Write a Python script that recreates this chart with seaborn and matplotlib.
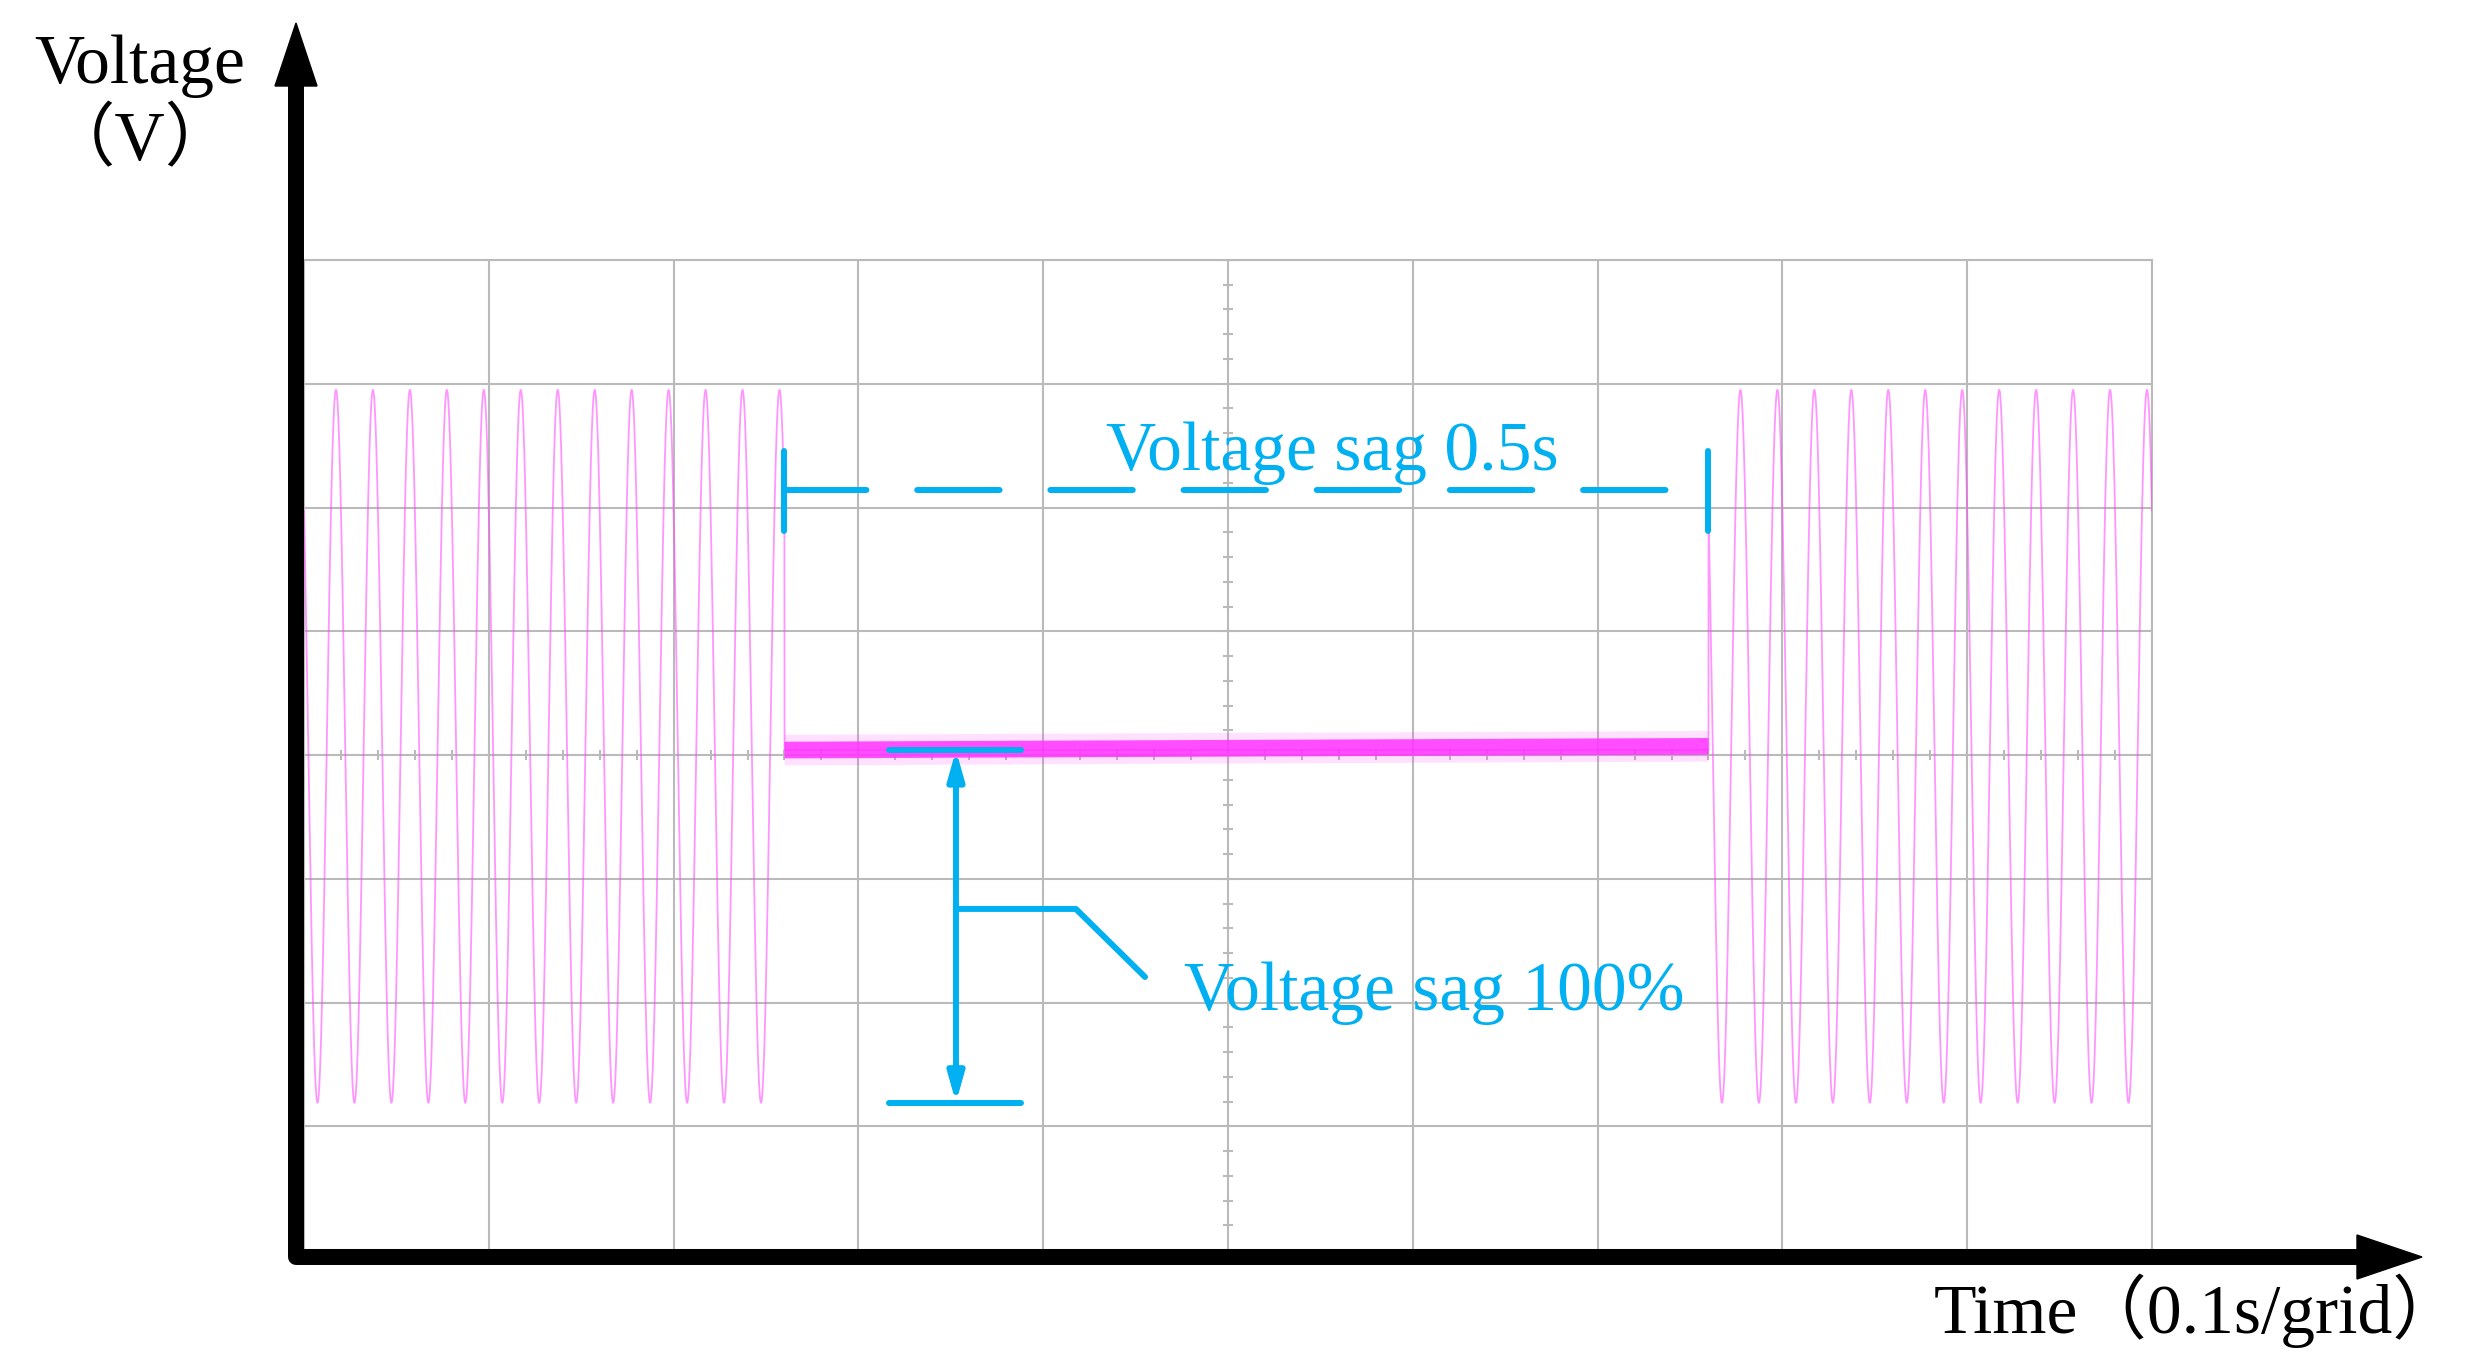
import numpy as np
import pandas as pd
import matplotlib
matplotlib.use("Agg")
import matplotlib.pyplot as plt
from matplotlib.lines import Line2D
from matplotlib.patches import Polygon
import seaborn as sns

sns.set_style("white")
plt.rcParams['font.family'] = ['Liberation Serif', 'Noto Sans CJK SC', 'DejaVu Sans']
plt.rcParams['text.color'] = 'black'

# signal (x: seconds, y: grid divisions)
TIME_RANGE = [0.0, 1.0]
X_GRID = 0.1          # 0.1 s per grid
Y_RANGE = [-4, 4]
FREQ_HZ = 50
AMPLITUDE = 2.88
DC_OFFSET = 0.07
FIRST_PEAK = 0.0173   # time of first crest
SAG_START = 0.26
SAG_END = 0.76
SAG_LEVEL = [0.04, 0.07]   # residual voltage at start / end of sag
SAMPLE_RATE = 20000

# annotation geometry
SAG_DIM_Y = 2.14
SAG_BAR_Y = [1.81, 2.46]
DEPTH_X = 0.3528
DEPTH_BAR_X = [0.3166, 0.388]
LEADER_X = [0.3528, 0.4177, 0.4551]
LEADER_Y = [-1.244, -1.244, -1.794]
LABEL_SAG_TIME = "Voltage sag 0.5s"
LABEL_SAG_DEPTH = "Voltage sag 100%"
LABEL_TIME_POS = [0.5563, 2.303]
LABEL_DEPTH_POS = [0.6115, -2.061]

CYAN = '#00b0f0'
MAGENTA = '#ff33ff'
GRID = '#bababa'

W, H = 2482, 1370


def fig_pt(x, y):
    return x / W, 1 - y / H


t = np.arange(TIME_RANGE[0], TIME_RANGE[1] + 1e-9, 1 / SAMPLE_RATE)
wave = DC_OFFSET + AMPLITUDE * np.cos(2 * np.pi * FREQ_HZ * (t - FIRST_PEAK))
in_sag = (t >= SAG_START) & (t <= SAG_END)
wave = np.where(in_sag, SAG_LEVEL[0], wave)
df = pd.DataFrame({'t': t, 'v': wave})
sag_df = pd.DataFrame({'t': [SAG_START, SAG_END], 'v': SAG_LEVEL})

fig = plt.figure(figsize=(W / 100, H / 100), dpi=100)
ax = fig.add_axes([304 / W, 120 / H, 1848 / W, 990 / H])

sns.lineplot(data=df, x='t', y='v', ax=ax, color='#ff40ff', lw=1.3,
             alpha=0.55, estimator=None, zorder=3)
sns.lineplot(data=sag_df, x='t', y='v', ax=ax, color=MAGENTA, lw=22,
             alpha=0.15, estimator=None, zorder=3, solid_capstyle='butt')
sns.lineplot(data=sag_df, x='t', y='v', ax=ax, color=MAGENTA, lw=12,
             alpha=0.85, estimator=None, zorder=3, solid_capstyle='butt')

ax.set_xlim(TIME_RANGE)
ax.set_ylim(Y_RANGE)
ax.set_xticks(np.arange(TIME_RANGE[0], TIME_RANGE[1] + 1e-9, X_GRID))
ax.set_yticks(np.arange(Y_RANGE[0], Y_RANGE[1] + 1))
ax.grid(True, color=GRID, lw=1.5)
ax.tick_params(length=0, labelbottom=False, labelleft=False)
ax.set_xlabel('')
ax.set_ylabel('')
for side in ['top', 'right', 'left', 'bottom']:
    ax.spines[side].set_color(GRID)
    ax.spines[side].set_linewidth(1.5)

# small ticks on the centre cross, like the scope graticule
mid_x = np.mean(TIME_RANGE)
ax.plot(np.full(41, mid_x), np.linspace(Y_RANGE[0], Y_RANGE[1], 41), ls='none',
        marker='_', ms=7, mew=1.5, color=GRID, zorder=2)
ax.plot(np.linspace(TIME_RANGE[0], TIME_RANGE[1], 51), np.zeros(51), ls='none',
        marker='|', ms=7, mew=1.5, color=GRID, zorder=2)

# sag duration marker
ax.plot([SAG_START, SAG_END], [SAG_DIM_Y, SAG_DIM_Y], color=CYAN, lw=4.3,
        dashes=(13.8, 8.5), dash_capstyle='round', zorder=4)
for xb in [SAG_START, SAG_END]:
    ax.plot([xb, xb], SAG_BAR_Y, color=CYAN, lw=4.3, solid_capstyle='round', zorder=4)
ax.text(LABEL_TIME_POS[0], LABEL_TIME_POS[1], LABEL_SAG_TIME, color=CYAN,
        fontsize=50, ha='center', va='baseline', zorder=5)

# sag depth marker
trough = DC_OFFSET - AMPLITUDE
for yb in [SAG_LEVEL[0], trough]:
    ax.plot(DEPTH_BAR_X, [yb, yb], color=CYAN, lw=4.3, solid_capstyle='round', zorder=4)
ax.annotate('', xy=(DEPTH_X, SAG_LEVEL[0]), xytext=(DEPTH_X, trough),
            arrowprops=dict(arrowstyle='<|-|>,head_length=1.7,head_width=0.48',
                            mutation_scale=10, color=CYAN, lw=4.3,
                            shrinkA=0, shrinkB=0), zorder=4)
ax.plot(LEADER_X, LEADER_Y, color=CYAN, lw=4.3, solid_capstyle='round',
        solid_joinstyle='round', zorder=4)
ax.text(LABEL_DEPTH_POS[0], LABEL_DEPTH_POS[1], LABEL_SAG_DEPTH, color=CYAN,
        fontsize=50, ha='center', va='baseline', zorder=5)

# thick black axes with arrow heads
xs, ys = zip(*[fig_pt(296, 85), fig_pt(296, 1257), fig_pt(2358, 1257)])
fig.add_artist(Line2D(xs, ys, color='black', lw=11.5, solid_joinstyle='round',
                      solid_capstyle='butt', transform=fig.transFigure))
fig.add_artist(Polygon([fig_pt(275, 86), fig_pt(317, 86), fig_pt(296, 23)],
                       closed=True, color='black', transform=fig.transFigure))
fig.add_artist(Polygon([fig_pt(2357, 1235), fig_pt(2357, 1279), fig_pt(2422, 1257)],
                       closed=True, color='black', transform=fig.transFigure))

fig.text(*fig_pt(140, 83), 'Voltage', fontsize=50, ha='center', va='baseline',
         color='black')
fig.text(*fig_pt(140, 160), '（V）', fontsize=50, ha='center', va='baseline',
         color='black')
fig.text(*fig_pt(2198, 1333), 'Time（0.1s/grid）', fontsize=50, ha='center',
         va='baseline', color='black')

fig.savefig('out.png', dpi=100, facecolor='white')
